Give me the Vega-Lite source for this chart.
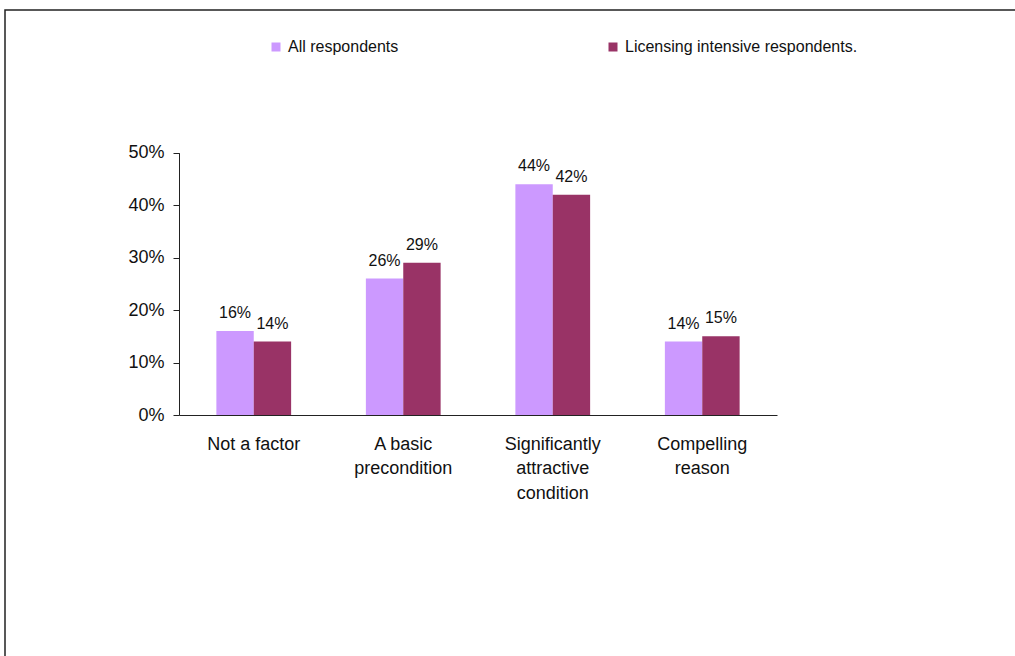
{
  "$schema": "https://vega.github.io/schema/vega-lite/v6.json",
  "width": 1013,
  "height": 649,
  "autosize": {"type": "none"},
  "padding": {"left": 5, "top": 10, "right": -3, "bottom": -3},
  "background": "white",
  "config": {
    "view": {"stroke": "#222", "strokeWidth": 1.5},
    "font": "Liberation Sans"
  },
  "data": {
    "values": [
      {"cat": "Not a factor", "series": "All respondents", "value": 0.16, "label": "16%"},
      {"cat": "Not a factor", "series": "Licensing intensive respondents.", "value": 0.14, "label": "14%"},
      {"cat": "A basic|precondition", "series": "All respondents", "value": 0.26, "label": "26%"},
      {"cat": "A basic|precondition", "series": "Licensing intensive respondents.", "value": 0.29, "label": "29%"},
      {"cat": "Significantly|attractive|condition", "series": "All respondents", "value": 0.44, "label": "44%"},
      {"cat": "Significantly|attractive|condition", "series": "Licensing intensive respondents.", "value": 0.42, "label": "42%"},
      {"cat": "Compelling|reason", "series": "All respondents", "value": 0.14, "label": "14%"},
      {"cat": "Compelling|reason", "series": "Licensing intensive respondents.", "value": 0.15, "label": "15%"}
    ]
  },
  "encoding": {
    "x": {
      "field": "cat",
      "type": "nominal",
      "sort": ["Not a factor", "A basic|precondition", "Significantly|attractive|condition", "Compelling|reason"],
      "scale": {"range": [174, 772], "paddingInner": 0.5, "paddingOuter": 0.25},
      "axis": {
        "title": null,
        "orient": "bottom",
        "offset": -244,
        "ticks": false,
        "tickSize": 0,
        "labelAngle": 0,
        "labelPadding": 20,
        "labelFontSize": 18,
        "labelColor": "#111",
        "labelBaseline": "top",
        "labelLineHeight": 24.5,
        "labelExpr": "split(datum.label, '|')",
        "domainColor": "#222",
        "domainWidth": 1,
        "grid": false
      }
    },
    "xOffset": {
      "field": "series",
      "type": "nominal",
      "sort": ["All respondents", "Licensing intensive respondents."],
      "scale": {"paddingInner": 0, "paddingOuter": 0}
    },
    "y": {
      "field": "value",
      "type": "quantitative",
      "scale": {"domain": [0, 0.5], "range": [405, 142.7], "nice": false, "zero": true},
      "axis": {
        "title": null,
        "orient": "left",
        "offset": -174,
        "values": [0, 0.1, 0.2, 0.3, 0.4, 0.5],
        "format": ".0%",
        "grid": false,
        "tickSize": 6,
        "tickColor": "#222",
        "labelPadding": 9,
        "labelFontSize": 18,
        "labelColor": "#111",
        "domainColor": "#222",
        "domainWidth": 1
      }
    }
  },
  "layer": [
    {
      "mark": {"type": "bar"},
      "encoding": {
        "color": {
          "field": "series",
          "type": "nominal",
          "sort": ["All respondents", "Licensing intensive respondents."],
          "scale": {"domain": ["All respondents", "Licensing intensive respondents."], "range": ["#CC99FF", "#993366"]},
          "legend": {
            "title": null,
            "orient": "none",
            "direction": "horizontal",
            "legendX": 263,
            "legendY": 29,
            "padding": 0,
            "symbolType": "square",
            "symbolSize": 81,
            "symbolStrokeWidth": 0,
            "labelFontSize": 16,
            "labelColor": "#111",
            "labelOffset": 4,
            "labelLimit": 400,
            "columnPadding": 206
          }
        }
      }
    },
    {
      "mark": {"type": "text", "baseline": "alphabetic", "align": "center", "dy": -13, "fontSize": 16, "color": "#111"},
      "encoding": {
        "text": {"field": "label", "type": "nominal"}
      }
    }
  ]
}
